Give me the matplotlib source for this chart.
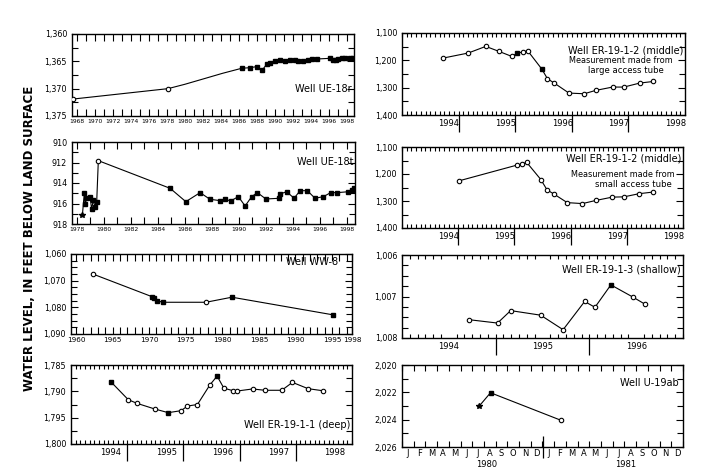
import numpy as np
import matplotlib
matplotlib.use("Agg")
import matplotlib.pyplot as plt
from matplotlib.ticker import MultipleLocator, FixedLocator, FuncFormatter

# ---------------- data ----------------
# Well UE-18r
ue18r_x = [1967.55, 1978.10, 1979.98, 1982.07, 1984.15, 1986.30, 1987.23, 1987.97, 1988.59, 1989.07, 1989.44,
           1990.00, 1990.53, 1991.11, 1991.67, 1992.20, 1992.58, 1993.14, 1993.66, 1994.08, 1994.70,
           1996.11, 1996.48, 1996.79, 1997.00, 1997.42, 1997.78, 1998.36, 1998.67]
ue18r_y = [1371.9, 1370.0, 1369.2, 1368.2, 1367.2, 1366.27, 1366.16, 1365.97, 1366.58, 1365.55, 1365.24,
           1364.87, 1364.8, 1364.87, 1364.75, 1364.7, 1364.87, 1365.0, 1364.8, 1364.57, 1364.57,
           1364.45, 1364.7, 1364.75, 1364.57, 1364.45, 1364.4, 1364.33, 1364.33]
ue18r_m = ['o', 'o', '', '', ''] + ['f'] * 24
ue18r_ticks = list(range(1968, 1999, 2))

# Well UE-18t
ue18t_x = [1978.42, 1978.56, 1978.62, 1978.74, 1978.98, 1979.11, 1979.22, 1979.36, 1979.48, 1979.60,
           1984.92, 1986.08, 1987.14, 1987.87, 1988.62, 1988.98, 1989.39, 1989.97, 1990.47, 1990.96,
           1991.38, 1992.01, 1993.01, 1993.06, 1993.55, 1994.10, 1994.54, 1995.08, 1995.65, 1996.27,
           1996.81, 1997.30, 1998.12, 1998.37, 1998.54]
ue18t_y = [917.12, 915.0, 916.08, 915.5, 915.33, 916.57, 915.66, 916.37, 915.82, 911.82,
           914.52, 915.82, 914.94, 915.59, 915.72, 915.56, 915.76, 915.33, 916.24, 915.33,
           914.94, 915.56, 915.49, 915.07, 914.85, 915.49, 914.75, 914.75, 915.49, 915.33,
           914.94, 914.94, 914.85, 914.68, 914.52]
ue18t_m = ['x'] + ['f'] * 8 + ['o'] + ['f'] * 25
ue18t_ticks = list(range(1978, 1999, 2))

# Well WW-8
ww8_x = [1962.29, 1970.38, 1970.61, 1971.07, 1971.84, 1977.76, 1981.31, 1995.10]
ww8_y = [1067.5, 1076.0, 1076.6, 1077.5, 1078.1, 1078.1, 1076.2, 1082.8]
ww8_m = ['o', 'f', 'f', 'f', 'f', 'o', 'f', 'f']
ww8_ticks = [1960, 1965, 1970, 1975, 1980, 1985, 1990, 1995]
ww8_ticklabels = ['1960', '1965', '1970', '1975', '1980', '1985', '1990', '1995', '1998']

# Well ER-19-1-1 (deep)
deep_x = [1994.72, 1995.02, 1995.18, 1995.49, 1995.73, 1995.96, 1996.07, 1996.25, 1996.47, 1996.6,
          1996.72, 1996.89, 1996.95, 1997.23, 1997.45, 1997.75, 1997.94, 1998.22, 1998.49]
deep_y = [1788.3, 1791.6, 1792.3, 1793.35, 1794.05, 1793.67, 1792.8, 1792.5, 1788.8, 1787.1,
          1789.4, 1789.9, 1789.95, 1789.55, 1789.8, 1789.8, 1788.3, 1789.5, 1789.9]
deep_m = ['f', 'o', 'o', 'o', 'f', 'o', 'o', 'o', 'o', 'f', 'o', 'o', 'o', 'o', 'o', 'o', 'o', 'o', 'o']

# Well ER-19-1-2 (middle), large access tube
midL_x = [1994.73, 1995.17, 1995.48, 1995.71, 1995.94, 1996.04, 1996.14, 1996.22, 1996.47, 1996.57,
          1996.69, 1996.95, 1997.22, 1997.42, 1997.72, 1997.92, 1998.2, 1998.44]
midL_y = [1191.6, 1173.3, 1149.0, 1167.0, 1185.7, 1173.0, 1169.6, 1164.8, 1231.9, 1267.4,
          1283.2, 1319.8, 1322.3, 1310.1, 1297.8, 1297.8, 1283.2, 1277.3]
midL_m = ['o', 'o', 'o', 'o', 'o', 'f', 'o', 'o', 'f', 'o', 'o', 'o', 'o', 'o', 'o', 'o', 'o', 'o']

# Well ER-19-1-2 (middle), small access tube
midS_x = [1995.02, 1996.05, 1996.13, 1996.22, 1996.47, 1996.58, 1996.7, 1996.94, 1997.21, 1997.45,
          1997.74, 1997.95, 1998.22, 1998.47]
midS_y = [1225.0, 1166.8, 1163.2, 1157.3, 1220.4, 1258.6, 1273.9, 1306.0, 1309.6, 1297.9,
          1285.7, 1284.6, 1272.9, 1266.8]
midS_m = ['o'] * 14

# Well ER-19-1-3 (shallow)
sh_x = [1994.72, 1995.02, 1995.16, 1995.48, 1995.72, 1995.95, 1996.06, 1996.23, 1996.47, 1996.59]
sh_y = [1007.56, 1007.64, 1007.34, 1007.45, 1007.8, 1007.12, 1007.26, 1006.72, 1007.02, 1007.18]
sh_m = ['o', 'o', 'o', 'o', 'o', 'o', 'o', 'f', 'o', 'o']

# Well U-19ab
u19_x = [1980.55, 1980.63, 1981.13]
u19_y = [2023.0, 2022.03, 2024.04]
u19_m = ['x', 'f', 'o']

months = ['J', 'F', 'M', 'A', 'M', 'J', 'J', 'A', 'S', 'O', 'N', 'D']
years_8 = ['1980', '1981']
ylabel = "WATER LEVEL, IN FEET BELOW LAND SURFACE"

# ---------------- figure ----------------
W, H = 711, 475
fig = plt.figure(figsize=(W / 100, H / 100), dpi=100)
plt.rcParams['font.family'] = ['DejaVu Sans']


def px_axes(l, t, r, b):
    return fig.add_axes([l / W, 1 - b / H, (r - l) / W, (b - t) / H])


def comma(v, pos=None):
    return "{:,}".format(int(round(v)))


def draw(ax, x, y, kinds, ms=3.2):
    x = np.asarray(x); y = np.asarray(y); k = np.asarray(kinds)
    ax.plot(x, y, '-', color='k', lw=0.8, zorder=2)
    m = k == 'f'
    ax.plot(x[m], y[m], ls='none', marker='s', ms=ms, mfc='k', mec='k', zorder=3)
    m = k == 'o'
    ax.plot(x[m], y[m], ls='none', marker='o', ms=ms, mfc='white', mec='k', mew=0.8, zorder=3)
    m = k == 'x'
    ax.plot(x[m], y[m], ls='none', marker='*', ms=ms + 1, mfc='k', mec='k', zorder=3)


def style_y(ax, lo, hi, major, minor, fs=5.8):
    ax.set_ylim(hi, lo)
    ax.yaxis.set_major_locator(MultipleLocator(major))
    ax.yaxis.set_minor_locator(MultipleLocator(minor))
    ax.yaxis.set_major_formatter(FuncFormatter(comma))
    ax.tick_params(axis='y', which='both', direction='in', left=True, right=True,
                   labelsize=fs, pad=3.5)
    ax.tick_params(axis='y', which='major', length=5, width=0.8)
    ax.tick_params(axis='y', which='minor', length=4, width=0.8)
    for s in ax.spines.values():
        s.set_linewidth(1.0)


def year_axis(ax, y0, y1, off=0.5, fs=6):
    ax.set_xlim(y0, y1)
    mids = [yr + off for yr in range(y0, y1)]
    ax.xaxis.set_major_locator(FixedLocator(mids))
    ax.set_xticklabels([str(yr) for yr in range(y0, y1)])
    ax.xaxis.set_minor_locator(FixedLocator(np.arange(y0, y1 + 1e-9, 1 / 12)))
    ax.tick_params(axis='x', which='major', length=0, labelsize=fs, pad=3)
    ax.tick_params(axis='x', which='minor', direction='in', top=True, bottom=True, length=3, width=0.8)
    sec = ax.secondary_xaxis('bottom')
    sec.set_xticks(list(range(y0 + 1, y1)))
    sec.set_xticklabels([''] * (y1 - y0 - 1))
    sec.tick_params(direction='out', length=12, width=0.9)
    sec.spines['bottom'].set_visible(False)


def well_label(ax, yfrac, txt, x=0.993, fs=7):
    ax.text(x, yfrac, txt, transform=ax.transAxes, ha='right', va='center', fontsize=fs)


# Panel 1: UE-18r
ax1 = px_axes(72, 34, 354, 116)
draw(ax1, ue18r_x, ue18r_y, ue18r_m)
style_y(ax1, 1360, 1375, 5, 2.5)
ax1.set_xlim(1967.44, 1998.78)
ax1.xaxis.set_major_locator(FixedLocator(ue18r_ticks))
ax1.xaxis.set_minor_locator(MultipleLocator(1))
ax1.tick_params(axis='x', which='both', direction='in', top=True, bottom=True, length=5,
                width=0.8, labelsize=4.3, pad=2)
well_label(ax1, 0.326, "Well UE-18r")

# Panel 2: UE-18t
ax2 = px_axes(72, 142, 355, 224)
draw(ax2, ue18t_x, ue18t_y, ue18t_m)
style_y(ax2, 910, 918, 2, 1)
ax2.set_xlim(1977.65, 1998.61)
ax2.xaxis.set_major_locator(FixedLocator(ue18t_ticks))
ax2.xaxis.set_minor_locator(MultipleLocator(1))
ax2.tick_params(axis='x', which='both', direction='in', top=True, bottom=True, length=5,
                width=0.8, labelsize=4.3, pad=2)
well_label(ax2, 0.76, "Well UE-18t")

# Panel 3: WW-8
ax3 = px_axes(71, 254, 352, 334)
draw(ax3, ww8_x, ww8_y, ww8_m)
style_y(ax3, 1060, 1090, 10, 2.5)
ax3.set_xlim(1959.31, 1997.73)
ax3.xaxis.set_major_locator(FixedLocator(ww8_ticks + [1997.73]))
ax3.set_xticklabels(ww8_ticklabels)
ax3.xaxis.set_minor_locator(MultipleLocator(1))
ax3.tick_params(axis='x', which='both', direction='in', top=True, bottom=True, length=5,
                width=0.8, labelsize=5.2, pad=2)
well_label(ax3, 0.90, "Well WW-8", x=0.95)

# Panel 4: ER-19-1-1 (deep)
ax4 = px_axes(71, 365, 352, 444)
draw(ax4, deep_x, deep_y, deep_m)
style_y(ax4, 1785, 1800, 5, 2.5)
year_axis(ax4, 1994, 1999, off=0.7)
well_label(ax4, 0.24, "Well ER-19-1-1 (deep)")

# Panel 5: ER-19-1-2 large tube
ax5 = px_axes(402, 33, 685, 115)
draw(ax5, midL_x, midL_y, midL_m)
style_y(ax5, 1100, 1400, 100, 50)
year_axis(ax5, 1994, 1999, off=0.83)
well_label(ax5, 0.79, "Well ER-19-1-2 (middle)")
ax5.text(0.773, 0.66, "Measurement made from", transform=ax5.transAxes, ha='center', va='center', fontsize=5.9)
ax5.text(0.79, 0.54, "large access tube", transform=ax5.transAxes, ha='center', va='center', fontsize=6.1)

# Panel 6: ER-19-1-2 small tube
ax6 = px_axes(402, 147, 683, 228)
draw(ax6, midS_x, midS_y, midS_m)
style_y(ax6, 1100, 1400, 100, 50)
year_axis(ax6, 1994, 1999, off=0.83)
well_label(ax6, 0.86, "Well ER-19-1-2 (middle)")
ax6.text(0.785, 0.665, "Measurement made from", transform=ax6.transAxes, ha='center', va='center', fontsize=5.9)
ax6.text(0.822, 0.54, "small access tube", transform=ax6.transAxes, ha='center', va='center', fontsize=6.1)

# Panel 7: ER-19-1-3 (shallow)
ax7 = px_axes(402, 255, 683, 338)
draw(ax7, sh_x, sh_y, sh_m)
style_y(ax7, 1006, 1008, 1, 0.25)
year_axis(ax7, 1994, 1997, off=0.5)
well_label(ax7, 0.82, "Well ER-19-1-3 (shallow)")

# Panel 8: U-19ab
ax8 = px_axes(402, 365, 683, 447)
draw(ax8, u19_x, u19_y, u19_m)
style_y(ax8, 2020, 2026, 2, 1)
ax8.set_xlim(1980, 1982)
ax8.xaxis.set_major_locator(FixedLocator([1980 + (k + 0.5) / 12 for k in range(24)]))
ax8.set_xticklabels(months * 2)
ax8.xaxis.set_minor_locator(FixedLocator(np.arange(1980, 1982 + 1e-9, 1 / 12)))
ax8.tick_params(axis='x', which='major', length=0, labelsize=6, pad=1.5)
ax8.tick_params(axis='x', which='minor', direction='in', top=True, bottom=True, length=4, width=0.8)
sec8 = ax8.secondary_xaxis('bottom')
sec8.set_xticks([1981])
sec8.set_xticklabels([''])
sec8.tick_params(direction='inout', length=16, width=0.9)
sec8.spines['bottom'].set_visible(False)
sec8b = ax8.secondary_xaxis('bottom')
sec8b.set_xticks([1980.6, 1981.59])
sec8b.set_xticklabels(years_8)
sec8b.tick_params(length=0, labelsize=6, pad=9.5)
sec8b.spines['bottom'].set_visible(False)
well_label(ax8, 0.78, "Well U-19ab", x=0.985)

fig.text(30 / W, 1 - 238 / H, ylabel, rotation=90, ha='center', va='center',
         fontsize=8.5, fontweight='bold')

fig.savefig("out.png", dpi=100)
